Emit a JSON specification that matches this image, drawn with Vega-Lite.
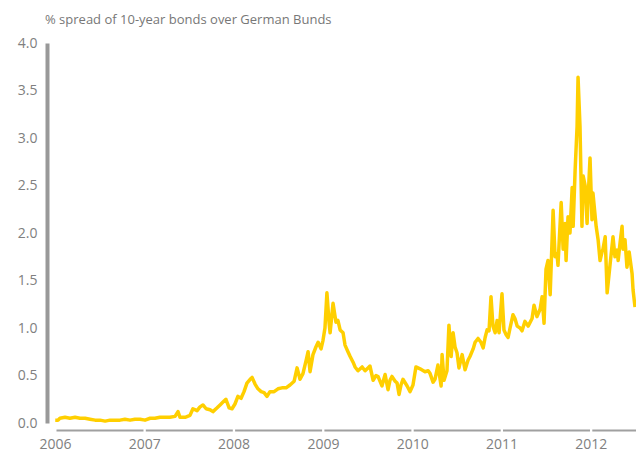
{
  "$schema": "https://vega.github.io/schema/vega-lite/v6.json",
  "width": 581,
  "height": 380,
  "autosize": {"type": "none"},
  "padding": {"left": 55, "top": 43, "right": 0, "bottom": 29},
  "background": "white",
  "title": {
    "text": "% spread of 10-year bonds over German Bunds",
    "anchor": "start",
    "frame": "group",
    "font": "Open Sans",
    "fontSize": 13,
    "fontWeight": "normal",
    "color": "#777777",
    "dx": -10,
    "offset": 9
  },
  "config": {
    "view": {"stroke": null},
    "axis": {"labelFont": "Open Sans", "labelFontSize": 14, "labelColor": "#808080", "grid": false}
  },
  "data": {
    "values": [
      {"date": "2006-01-02", "spread": 0.03},
      {"date": "2006-01-13", "spread": 0.03},
      {"date": "2006-01-21", "spread": 0.05},
      {"date": "2006-02-11", "spread": 0.06},
      {"date": "2006-03-03", "spread": 0.05},
      {"date": "2006-03-24", "spread": 0.06},
      {"date": "2006-04-13", "spread": 0.05},
      {"date": "2006-05-04", "spread": 0.05},
      {"date": "2006-05-24", "spread": 0.04},
      {"date": "2006-06-14", "spread": 0.03},
      {"date": "2006-07-04", "spread": 0.03},
      {"date": "2006-07-25", "spread": 0.02},
      {"date": "2006-08-14", "spread": 0.03},
      {"date": "2006-09-03", "spread": 0.03},
      {"date": "2006-09-24", "spread": 0.03},
      {"date": "2006-10-14", "spread": 0.04},
      {"date": "2006-11-04", "spread": 0.03},
      {"date": "2006-11-24", "spread": 0.04},
      {"date": "2006-12-15", "spread": 0.04},
      {"date": "2007-01-04", "spread": 0.03},
      {"date": "2007-01-25", "spread": 0.05},
      {"date": "2007-02-14", "spread": 0.05},
      {"date": "2007-03-06", "spread": 0.06},
      {"date": "2007-03-27", "spread": 0.06},
      {"date": "2007-04-16", "spread": 0.06},
      {"date": "2007-05-07", "spread": 0.07},
      {"date": "2007-05-19", "spread": 0.12},
      {"date": "2007-05-27", "spread": 0.06},
      {"date": "2007-06-17", "spread": 0.06},
      {"date": "2007-07-07", "spread": 0.08},
      {"date": "2007-07-19", "spread": 0.15},
      {"date": "2007-08-05", "spread": 0.13},
      {"date": "2007-08-17", "spread": 0.17},
      {"date": "2007-08-29", "spread": 0.19},
      {"date": "2007-09-11", "spread": 0.15},
      {"date": "2007-09-27", "spread": 0.14},
      {"date": "2007-10-09", "spread": 0.12},
      {"date": "2007-10-26", "spread": 0.16},
      {"date": "2007-11-07", "spread": 0.19},
      {"date": "2007-11-19", "spread": 0.22},
      {"date": "2007-12-01", "spread": 0.25},
      {"date": "2007-12-14", "spread": 0.16},
      {"date": "2007-12-26", "spread": 0.15},
      {"date": "2008-01-07", "spread": 0.20},
      {"date": "2008-01-19", "spread": 0.28},
      {"date": "2008-02-01", "spread": 0.26},
      {"date": "2008-02-13", "spread": 0.33},
      {"date": "2008-02-25", "spread": 0.42},
      {"date": "2008-03-09", "spread": 0.46},
      {"date": "2008-03-17", "spread": 0.48},
      {"date": "2008-03-29", "spread": 0.41},
      {"date": "2008-04-10", "spread": 0.36},
      {"date": "2008-04-23", "spread": 0.33},
      {"date": "2008-05-05", "spread": 0.32},
      {"date": "2008-05-17", "spread": 0.28},
      {"date": "2008-05-29", "spread": 0.33},
      {"date": "2008-06-15", "spread": 0.33},
      {"date": "2008-07-01", "spread": 0.36},
      {"date": "2008-07-17", "spread": 0.37},
      {"date": "2008-08-03", "spread": 0.37},
      {"date": "2008-08-19", "spread": 0.40},
      {"date": "2008-09-05", "spread": 0.44},
      {"date": "2008-09-17", "spread": 0.58},
      {"date": "2008-09-29", "spread": 0.46},
      {"date": "2008-10-11", "spread": 0.52},
      {"date": "2008-10-24", "spread": 0.66},
      {"date": "2008-11-01", "spread": 0.75},
      {"date": "2008-11-09", "spread": 0.54},
      {"date": "2008-11-21", "spread": 0.72},
      {"date": "2008-12-03", "spread": 0.80},
      {"date": "2008-12-12", "spread": 0.85},
      {"date": "2008-12-24", "spread": 0.78},
      {"date": "2009-01-01", "spread": 0.87},
      {"date": "2009-01-09", "spread": 1.00},
      {"date": "2009-01-17", "spread": 1.37},
      {"date": "2009-01-26", "spread": 1.05},
      {"date": "2009-01-30", "spread": 0.95},
      {"date": "2009-02-11", "spread": 1.26},
      {"date": "2009-02-23", "spread": 1.06},
      {"date": "2009-03-03", "spread": 1.08},
      {"date": "2009-03-12", "spread": 0.98},
      {"date": "2009-03-24", "spread": 0.95},
      {"date": "2009-04-01", "spread": 0.82},
      {"date": "2009-04-13", "spread": 0.75},
      {"date": "2009-04-22", "spread": 0.70},
      {"date": "2009-05-04", "spread": 0.64},
      {"date": "2009-05-12", "spread": 0.59},
      {"date": "2009-05-24", "spread": 0.55},
      {"date": "2009-06-10", "spread": 0.59},
      {"date": "2009-06-22", "spread": 0.55},
      {"date": "2009-07-04", "spread": 0.58},
      {"date": "2009-07-12", "spread": 0.60},
      {"date": "2009-07-25", "spread": 0.45},
      {"date": "2009-08-06", "spread": 0.50},
      {"date": "2009-08-14", "spread": 0.49},
      {"date": "2009-08-22", "spread": 0.44},
      {"date": "2009-08-30", "spread": 0.39},
      {"date": "2009-09-12", "spread": 0.51},
      {"date": "2009-09-24", "spread": 0.35},
      {"date": "2009-10-02", "spread": 0.45},
      {"date": "2009-10-10", "spread": 0.49},
      {"date": "2009-10-23", "spread": 0.44},
      {"date": "2009-10-31", "spread": 0.42},
      {"date": "2009-11-08", "spread": 0.30},
      {"date": "2009-11-16", "spread": 0.40},
      {"date": "2009-11-24", "spread": 0.46},
      {"date": "2009-12-11", "spread": 0.39},
      {"date": "2009-12-23", "spread": 0.33},
      {"date": "2010-01-04", "spread": 0.40},
      {"date": "2010-01-16", "spread": 0.59},
      {"date": "2010-02-02", "spread": 0.57},
      {"date": "2010-02-22", "spread": 0.54},
      {"date": "2010-03-07", "spread": 0.55},
      {"date": "2010-03-15", "spread": 0.52},
      {"date": "2010-03-27", "spread": 0.43},
      {"date": "2010-04-04", "spread": 0.46},
      {"date": "2010-04-16", "spread": 0.61},
      {"date": "2010-04-29", "spread": 0.39},
      {"date": "2010-05-03", "spread": 0.72},
      {"date": "2010-05-11", "spread": 0.45},
      {"date": "2010-05-23", "spread": 0.55},
      {"date": "2010-05-31", "spread": 1.03},
      {"date": "2010-06-09", "spread": 0.70},
      {"date": "2010-06-17", "spread": 0.95},
      {"date": "2010-06-25", "spread": 0.80},
      {"date": "2010-07-03", "spread": 0.74},
      {"date": "2010-07-11", "spread": 0.58},
      {"date": "2010-07-24", "spread": 0.72},
      {"date": "2010-08-05", "spread": 0.56},
      {"date": "2010-08-17", "spread": 0.66},
      {"date": "2010-08-25", "spread": 0.70},
      {"date": "2010-09-07", "spread": 0.78},
      {"date": "2010-09-15", "spread": 0.85},
      {"date": "2010-09-27", "spread": 0.89},
      {"date": "2010-10-09", "spread": 0.85},
      {"date": "2010-10-18", "spread": 0.79},
      {"date": "2010-10-26", "spread": 0.90},
      {"date": "2010-11-03", "spread": 0.98},
      {"date": "2010-11-11", "spread": 0.97},
      {"date": "2010-11-19", "spread": 1.33},
      {"date": "2010-11-27", "spread": 1.02},
      {"date": "2010-12-06", "spread": 0.95},
      {"date": "2010-12-14", "spread": 1.08},
      {"date": "2010-12-22", "spread": 0.95},
      {"date": "2011-01-03", "spread": 1.36},
      {"date": "2011-01-11", "spread": 0.98},
      {"date": "2011-01-20", "spread": 0.93},
      {"date": "2011-01-28", "spread": 0.90},
      {"date": "2011-02-05", "spread": 1.00},
      {"date": "2011-02-17", "spread": 1.14},
      {"date": "2011-02-25", "spread": 1.10},
      {"date": "2011-03-06", "spread": 1.02},
      {"date": "2011-03-18", "spread": 1.00},
      {"date": "2011-03-26", "spread": 0.97},
      {"date": "2011-04-07", "spread": 1.07},
      {"date": "2011-04-20", "spread": 1.02},
      {"date": "2011-05-06", "spread": 1.10},
      {"date": "2011-05-14", "spread": 1.24},
      {"date": "2011-05-26", "spread": 1.12},
      {"date": "2011-06-08", "spread": 1.20},
      {"date": "2011-06-16", "spread": 1.33},
      {"date": "2011-06-24", "spread": 1.05},
      {"date": "2011-07-02", "spread": 1.62},
      {"date": "2011-07-10", "spread": 1.71},
      {"date": "2011-07-19", "spread": 1.35},
      {"date": "2011-07-31", "spread": 2.24},
      {"date": "2011-08-08", "spread": 1.75},
      {"date": "2011-08-16", "spread": 1.78},
      {"date": "2011-08-20", "spread": 1.66},
      {"date": "2011-09-02", "spread": 2.32},
      {"date": "2011-09-10", "spread": 1.83},
      {"date": "2011-09-18", "spread": 2.10},
      {"date": "2011-09-22", "spread": 1.71},
      {"date": "2011-09-30", "spread": 2.17},
      {"date": "2011-10-08", "spread": 2.00},
      {"date": "2011-10-17", "spread": 2.48},
      {"date": "2011-10-21", "spread": 2.07},
      {"date": "2011-10-29", "spread": 2.66},
      {"date": "2011-11-06", "spread": 3.12},
      {"date": "2011-11-10", "spread": 3.64},
      {"date": "2011-11-18", "spread": 3.12},
      {"date": "2011-11-26", "spread": 2.07},
      {"date": "2011-12-01", "spread": 2.60},
      {"date": "2011-12-09", "spread": 2.50},
      {"date": "2011-12-17", "spread": 2.10},
      {"date": "2011-12-21", "spread": 2.35},
      {"date": "2011-12-29", "spread": 2.79},
      {"date": "2012-01-06", "spread": 2.14},
      {"date": "2012-01-10", "spread": 2.42},
      {"date": "2012-01-23", "spread": 2.07},
      {"date": "2012-01-31", "spread": 1.93},
      {"date": "2012-02-08", "spread": 1.71},
      {"date": "2012-02-16", "spread": 1.80},
      {"date": "2012-02-20", "spread": 1.83},
      {"date": "2012-02-29", "spread": 1.96},
      {"date": "2012-03-08", "spread": 1.37},
      {"date": "2012-03-20", "spread": 1.67},
      {"date": "2012-04-01", "spread": 1.96},
      {"date": "2012-04-09", "spread": 1.75},
      {"date": "2012-04-18", "spread": 1.82},
      {"date": "2012-04-22", "spread": 1.71},
      {"date": "2012-04-30", "spread": 1.90},
      {"date": "2012-05-08", "spread": 2.07},
      {"date": "2012-05-12", "spread": 1.83},
      {"date": "2012-05-20", "spread": 1.93},
      {"date": "2012-05-28", "spread": 1.64},
      {"date": "2012-06-06", "spread": 1.80},
      {"date": "2012-06-18", "spread": 1.57},
      {"date": "2012-06-22", "spread": 1.40},
      {"date": "2012-06-30", "spread": 1.22}
    ]
  },
  "mark": {"type": "line", "color": "#FFCF00", "strokeWidth": 3.5, "strokeJoin": "round", "clip": true},
  "encoding": {
    "x": {
      "field": "date",
      "type": "temporal",
      "scale": {"domain": ["2006-01-01", "2012-07-04"], "nice": false},
      "axis": {
        "title": null,
        "format": "%Y",
        "tickCount": {"interval": "year", "step": 1},
        "ticks": false,
        "tickSize": 0,
        "labelPadding": 7,
        "labelFlush": false,
        "labelOverlap": false,
        "offset": 7,
        "domainColor": "#a0a0a0",
        "domainWidth": 2,
        "domainDash": [87, 2.3],
        "domainDashOffset": -1
      }
    },
    "y": {
      "field": "spread",
      "type": "quantitative",
      "scale": {"domain": [0, 4], "nice": false, "zero": true},
      "axis": {
        "title": null,
        "values": [0, 0.5, 1, 1.5, 2, 2.5, 3, 3.5, 4],
        "format": ".1f",
        "ticks": false,
        "tickSize": 0,
        "labelPadding": 10,
        "offset": 8,
        "domainColor": "#999999",
        "domainWidth": 4
      }
    }
  }
}
